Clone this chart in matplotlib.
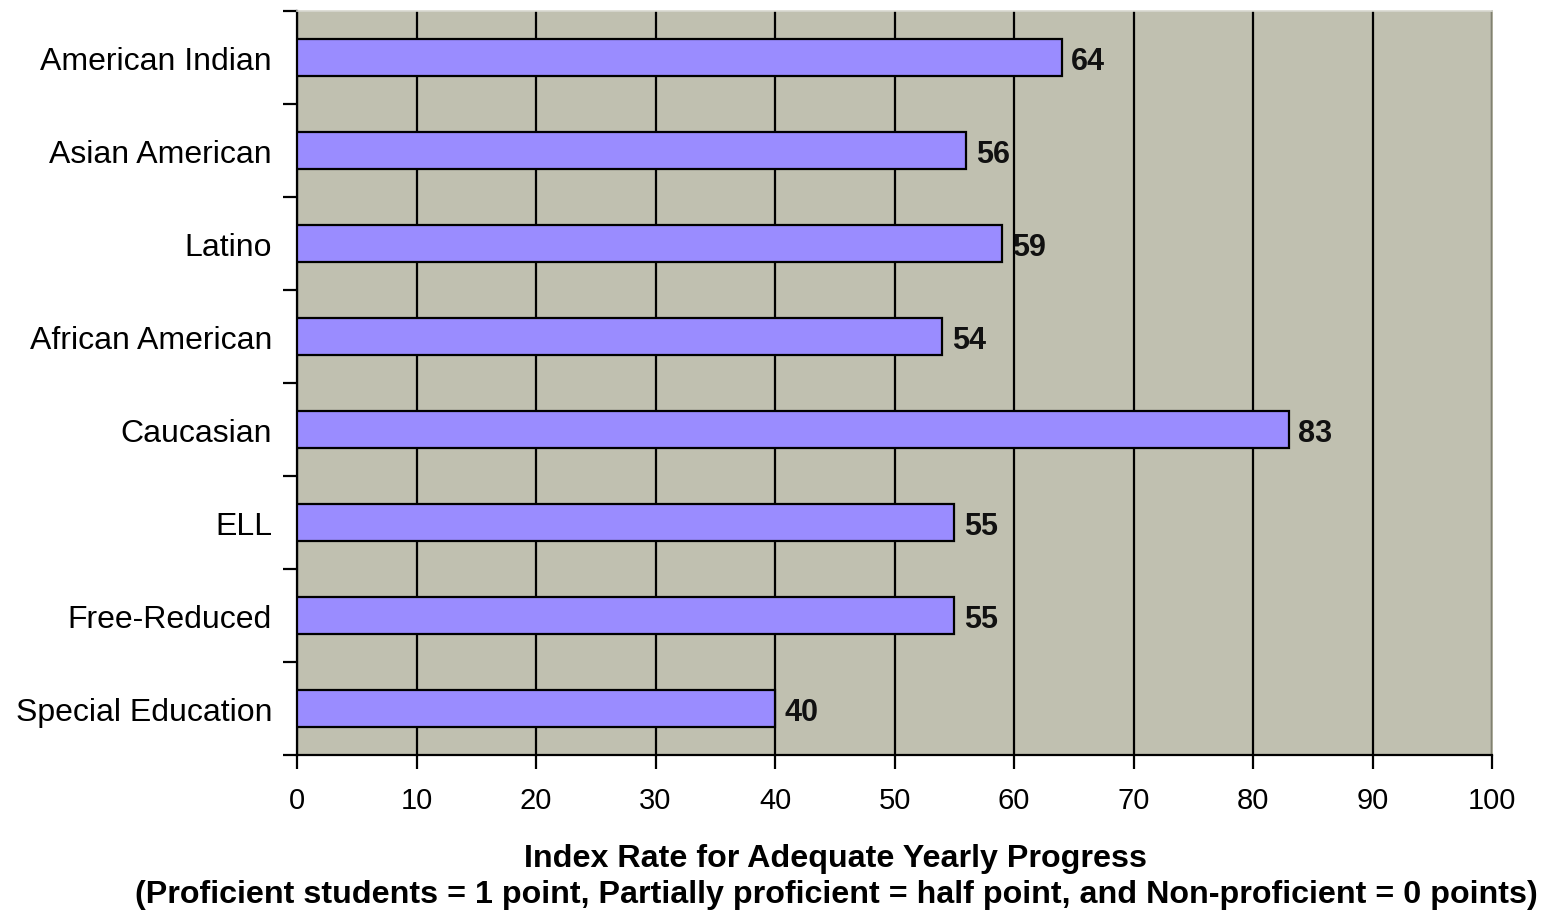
import numpy as np
import matplotlib
matplotlib.use('Agg')
from matplotlib import pyplot as plt

groups = ['American Indian', 'Asian American', 'Latino', 'African American',
          'Caucasian', 'ELL', 'Free-Reduced', 'Special Education']
index_rate = [64, 56, 59, 54, 83, 55, 55, 40]
x_ticks = list(range(0, 101, 10))

plt.rcParams['font.family'] = ['Liberation Sans', 'DejaVu Sans']

fig = plt.figure(figsize=(15.45, 9.12), dpi=100)
ax = fig.add_axes([297 / 1545, 1 - 756 / 912, (1492 - 297) / 1545, (756 - 12) / 912])
ax.set_facecolor('#c0c0b0')

pos = np.arange(len(groups))
ax.barh(pos, index_rate, height=0.39, color='#9a8cff', edgecolor='black',
        linewidth=1.6, zorder=3)

# value labels just past the end of each bar
for y, v in zip(pos, index_rate):
    ax.text(v + 0.8, y, str(v), va='center_baseline', ha='left', fontsize=22,
            fontweight='bold', color='#111111', zorder=4)

ax.set_xlim(0, 100)
ax.set_ylim(len(groups) - 0.5, -0.5)
ax.set_xticks(x_ticks)
ax.set_xticklabels([str(t) for t in x_ticks], fontsize=21)
ax.set_yticks(pos)
ax.set_yticklabels(groups, fontsize=23)
ax.set_yticks(np.arange(-0.5, len(groups)), minor=True)
ax.tick_params(axis='y', which='major', length=0, pad=18)
ax.tick_params(axis='y', which='minor', length=10, width=1.6, direction='out')
ax.tick_params(axis='x', which='major', length=10, width=1.6, direction='out', pad=12)

ax.grid(axis='x', color='black', linewidth=1.6, zorder=1)
ax.set_axisbelow(True)

ax.spines['left'].set_linewidth(1.6)
ax.spines['bottom'].set_linewidth(1.6)
ax.spines['top'].set_color('#d8d8d0')
ax.spines['top'].set_linewidth(1.2)
ax.spines['right'].set_color('#9c9c88')
ax.spines['right'].set_linewidth(1.2)

fig.text(836 / 1545, 1 - 859 / 912, 'Index Rate for Adequate Yearly Progress',
         ha='center', va='center', fontsize=23.2, fontweight='bold')
fig.text(836 / 1545, 1 - 895 / 912,
         '(Proficient students = 1 point, Partially proficient = half point, '
         'and Non-proficient = 0 points)',
         ha='center', va='center', fontsize=23.2, fontweight='bold')

fig.savefig('out.png', dpi=100)
